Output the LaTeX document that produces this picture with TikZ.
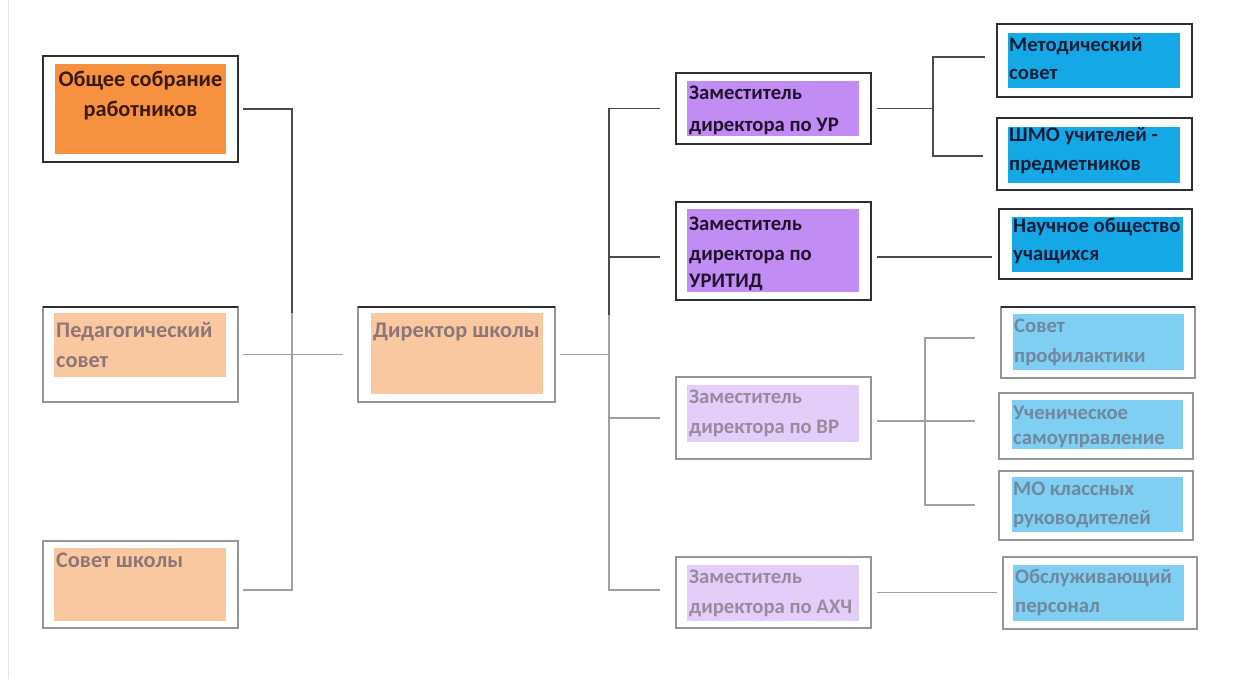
\documentclass[tikz,border=0pt]{standalone}
\usepackage{fontspec}
\setmainfont{Carlito}
\definecolor{orD}{HTML}{F5913F}
\definecolor{orL}{HTML}{F9C8A0}
\definecolor{puD}{HTML}{C18DF4}
\definecolor{puL}{HTML}{E3CEF9}
\definecolor{blD}{HTML}{14A9E6}
\definecolor{blL}{HTML}{7ECFF1}
\definecolor{tOrD}{HTML}{3B1A0C}
\definecolor{tOrL}{HTML}{8E7678}
\definecolor{tPuD}{HTML}{22132E}
\definecolor{tPuL}{HTML}{9B8A9E}
\definecolor{tBlD}{HTML}{0E1E3A}
\definecolor{tBlL}{HTML}{7088A0}
\definecolor{fD}{HTML}{2F2F2F}
\definecolor{fL}{HTML}{959595}
\definecolor{lD}{HTML}{4A4A4A}
\definecolor{lL}{HTML}{A0A0A0}
\begin{document}
\begin{tikzpicture}[x=1pt,y=-1pt,
  box/.style n args={4}{anchor=north west, at={(#1,#2)}, minimum width={#3-#1}, minimum height={#4-#2}, inner sep=0pt, outer sep=0pt},
  frD/.style={draw=fD, line width=1.8pt},
  frL/.style={draw=fL, line width=1.2pt},
  topline/.style={draw=fD, line width=1.8pt},
  tx/.style={anchor=base west, inner sep=0pt, font=\fontsize{20.7}{24}\selectfont\bfseries},
  txL/.style={anchor=base west, inner sep=0pt, font=\fontsize{22.3}{26}\selectfont\bfseries},
  cD/.style={draw=lD, line width=1.8pt},
  cL/.style={draw=lL, line width=1.3pt}]
\useasboundingbox (0,0) rectangle (1244,679);
\fill[white] (0,0) rectangle (1244,679);
\draw[black!10, line width=1pt] (8,0) -- (8,679);

% left column
\node[frD, box={43}{56}{238}{162}] (obs) {};
\node[fill=orD, box={55}{64}{226}{154}] (obs-in) {};
\node[txL, anchor=base, text=tOrD] (obs-t1) at (140.5,87) {Общее собрание};
\node[txL, anchor=base, text=tOrD] (obs-t2) at (140.5,117) {работников};

\node[frL, box={43}{307}{238}{402}] (ped) {};
\draw[topline] (ped.north west) -- (ped.north east);
\node[fill=orL, box={54}{313}{226}{377}] (ped-in) {};
\node[txL, text=tOrL] (ped-t1) at (56,337) {Педагогический};
\node[txL, text=tOrL] (ped-t2) at (56,367) {совет};

\node[frL, box={43}{541}{238}{628}] (sov) {};
\node[fill=orL, box={54}{548}{226}{621}] (sov-in) {};
\node[txL, text=tOrL] (sov-t1) at (56,567) {Совет школы};

% director
\node[frL, box={358}{307}{555}{402}] (dir) {};
\draw[topline] (dir.north west) -- (dir.north east);
\node[fill=orL, box={371}{313}{543}{394}] (dir-in) {};
\node[txL, text=tOrL] (dir-t1) at (373,337) {Директор школы};

% deputies
\node[frD, box={676}{73}{871}{144}] (ur) {};
\node[fill=puD, box={687}{81}{859}{136}] (ur-in) {};
\node[tx, text=tPuD] (ur-t1) at (689,100) {Заместитель};
\node[tx, text=tPuD] (ur-t2) at (689,132) {директора по УР};

\node[frD, box={676}{202}{871}{300}] (urit) {};
\node[fill=puD, box={687}{209}{859}{292}] (urit-in) {};
\node[tx, text=tPuD] (urit-t1) at (689,230) {Заместитель};
\node[tx, text=tPuD] (urit-t2) at (689,260) {директора по};
\node[tx, text=tPuD] (urit-t3) at (689,287) {УРИТИД};

\node[frL, box={676}{377}{871}{459}] (vr) {};
\node[fill=puL, box={687}{385}{859}{442}] (vr-in) {};
\node[tx, text=tPuL] (vr-t1) at (689,403) {Заместитель};
\node[tx, text=tPuL] (vr-t2) at (689,433) {директора по ВР};

\node[frL, box={676}{557}{871}{628}] (axch) {};
\node[fill=puL, box={687}{565}{859}{621}] (axch-in) {};
\node[tx, text=tPuL] (axch-t1) at (689,583) {Заместитель};
\node[tx, text=tPuL] (axch-t2) at (689,613) {директора по АХЧ};

% right column
\node[frD, box={997}{24}{1192}{97}] (met) {};
\node[fill=blD, box={1008}{33}{1180}{88}] (met-in) {};
\node[tx, text=tBlD] (met-t1) at (1009,52) {Методический};
\node[tx, text=tBlD] (met-t2) at (1009,80) {совет};

\node[frD, box={997}{118}{1192}{190}] (shmo) {};
\node[fill=blD, box={1008}{127}{1180}{183}] (shmo-in) {};
\node[tx, text=tBlD] (shmo-t1) at (1009,142) {ШМО учителей -};
\node[tx, text=tBlD] (shmo-t2) at (1009,171) {предметников};

\node[frD, box={999}{209}{1192}{279}] (nauch) {};
\node[fill=blD, box={1012}{217}{1183}{272}] (nauch-in) {};
\node[tx, text=tBlD] (nauch-t1) at (1013,232) {Научное общество};
\node[tx, text=tBlD] (nauch-t2) at (1013,260) {учащихся};

\node[frL, box={1001}{307}{1195}{378}] (prof) {};
\draw[topline] (prof.north west) -- (prof.north east);
\node[fill=blL, box={1013}{314}{1184}{370}] (prof-in) {};
\node[tx, text=tBlL] (prof-t1) at (1014,332) {Совет};
\node[tx, text=tBlL] (prof-t2) at (1014,362) {профилактики};

\node[frL, box={999}{393}{1193}{459}] (uch) {};
\node[fill=blL, box={1012}{400}{1183}{449}] (uch-in) {};
\node[tx, text=tBlL] (uch-t1) at (1013,419) {Ученическое};
\node[tx, text=tBlL] (uch-t2) at (1013,444) {самоуправление};

\node[frL, box={999}{471}{1193}{540}] (mo) {};
\node[fill=blL, box={1012}{477}{1183}{532}] (mo-in) {};
\node[tx, text=tBlL] (mo-t1) at (1013,495) {МО классных};
\node[tx, text=tBlL] (mo-t2) at (1013,524) {руководителей};

\node[frL, box={1003}{557}{1197}{629}] (obsl) {};
\node[fill=blL, box={1013}{565}{1184}{621}] (obsl-in) {};
\node[tx, text=tBlL] (obsl-t1) at (1015,583) {Обслуживающий};
\node[tx, text=tBlL] (obsl-t2) at (1015,612) {персонал};

% connectors left
\coordinate (LBt) at (292,313);
\coordinate (LBb) at (292,590);
\draw[cD] ([xshift=5pt]obs.east) -| (LBt);
\draw[cL] (LBt) -- (LBb) -- ([xshift=5pt]sov.east |- LBb);
\draw[cL] ([xshift=5pt]ped.east) -- ([xshift=-15pt]dir.west);

% connectors right bus
\coordinate (RBm) at (609,315);
\coordinate (RBb) at (609,590);
\draw[cD] ([xshift=-16pt]ur.west) -| (RBm);
\draw[cD] ([xshift=-16pt,yshift=-6pt]urit.west) -| (RBm);
\draw[cL] (RBm) -- (RBb) -- ([xshift=-16pt]axch.west |- RBb);
\draw[cL] ([xshift=-16pt]vr.west) -- (RBm |- vr.west);
\draw[cL] ([xshift=5pt]dir.east) -- (RBm |- dir.east);

% UR branch
\coordinate (URb1) at (933,57);
\coordinate (URb2) at (933,156);
\draw[cD] ([xshift=6pt]ur.east) -- (URb1 |- ur.east);
\draw[cD] ([xshift=-12pt]met.west |- URb1) -- (URb1) -- (URb2) -- ([xshift=-14pt]shmo.west |- URb2);
\draw[cD] ([xshift=6pt,yshift=-6pt]urit.east) -- ([xshift=-7pt,yshift=-13pt]nauch.west);

% VR branch
\coordinate (VRb1) at (925,338);
\coordinate (VRb2) at (925,505);
\draw[cL] ([xshift=-26pt]prof.west |- VRb1) -- (VRb1) -- (VRb2) -- ([xshift=-24pt]mo.west |- VRb2);
\draw[cL] ([xshift=6pt,yshift=-3pt]vr.east) -- ([xshift=-24pt,yshift=5pt]uch.west);

% AXCH branch
\draw[cL] ([xshift=6pt]axch.east) -- ([xshift=-6pt]obsl.west |- axch.east);
\end{tikzpicture}
\end{document}
